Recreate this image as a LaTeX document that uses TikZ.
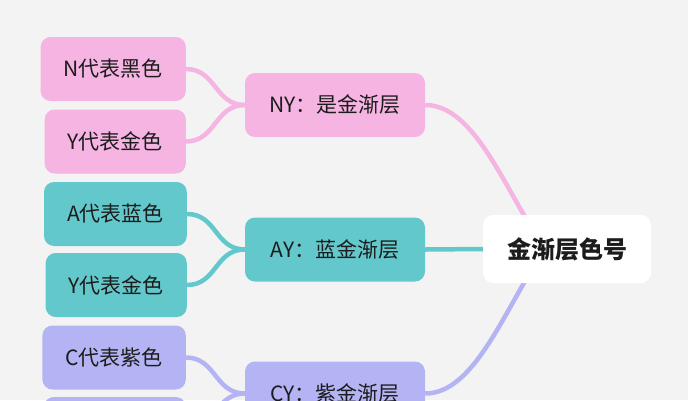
\documentclass[tikz,border=0pt]{standalone}
\usepackage{fontspec}
\setmainfont{Noto Sans CJK SC}
\usetikzlibrary{calc, positioning}
\definecolor{bgcol}{HTML}{F3F3F3}
\definecolor{pinkc}{HTML}{F5B4E1}
\definecolor{tealc}{HTML}{63C8CB}
\definecolor{purplec}{HTML}{B4B4F4}
\definecolor{inkc}{HTML}{1C1C1C}
\pgfdeclarelayer{bg}
\pgfdeclarelayer{links}
\pgfsetlayers{bg,links,main}
\tikzset{
    topic/.style={rectangle, rounded corners=10pt, inner xsep=23pt, minimum height=64pt, font=\fontsize{21}{25}\selectfont, text=inkc},
    leaf/.style={topic, anchor=east},
    mid/.style={topic, minimum width=180pt},
    root/.style={topic, fill=white, minimum width=168pt, minimum height=68pt, font=\fontsize{24}{28}\selectfont\bfseries},
    pinkbox/.style={fill=pinkc},
    tealbox/.style={fill=tealc},
    purplebox/.style={fill=purplec},
    link/.style={line width=4.5pt}
}

\begin{document}
\begin{tikzpicture}[x=1pt, y=-1pt]
    % 金渐层色号：三组色号，各自两个字母
    \useasboundingbox (0,0) rectangle (688,400);
    \begin{pgfonlayer}{bg}
        \fill[bgcol] (0,0) rectangle (688,400);
    \end{pgfonlayer}

    \node (root) [root] at (567,249) {金渐层色号};

    \node (ny) [mid, pinkbox] at (335,105) {NY：是金渐层};
    \node (ny-n) [leaf, pinkbox] at (186,69) {N代表黑色};
    \node (ny-y) [leaf, pinkbox] at (186,141.5) {Y代表金色};

    \node (ay) [mid, tealbox] at (335,249.5) {AY：蓝金渐层};
    \node (ay-a) [leaf, tealbox] at (187,214) {A代表蓝色};
    \node (ay-y) [leaf, tealbox] at (187,285) {Y代表金色};

    \node (cy) [mid, purplebox] at (335,393.5) {CY：紫金渐层};
    \node (cy-c) [leaf, purplebox] at (186,357.5) {C代表紫色};
    \node (cy-y) [leaf, purplebox, minimum width=142pt] at (186,429) {};

    \begin{pgfonlayer}{links}
        \draw[link, pinkc] (ny-n.east) .. controls +(30,0) and +(-30,0) .. (ny.west);
        \draw[link, pinkc] (ny-y.east) .. controls +(30,0) and +(-30,0) .. (ny.west);
        \draw[link, tealc] (ay-a.east) .. controls +(30,0) and +(-30,0) .. (ay.west);
        \draw[link, tealc] (ay-y.east) .. controls +(30,0) and +(-30,0) .. (ay.west);
        \draw[link, purplec] (cy-c.east) .. controls +(30,0) and +(-30,0) .. (cy.west);
        \draw[link, purplec] (cy-y.east) .. controls +(30,0) and +(-30,0) .. (cy.west);

        \draw[link, pinkc] (ny.east) .. controls +(50,0) and +(-40,-59) .. ($(root.west)+(62,0)$);
        \draw[link, tealc] (ay.east) -- (root.west);
        \draw[link, purplec] (cy.east) .. controls +(50,0) and +(-40,59) .. ($(root.west)+(62,0)$);
    \end{pgfonlayer}
\end{tikzpicture}
\end{document}
